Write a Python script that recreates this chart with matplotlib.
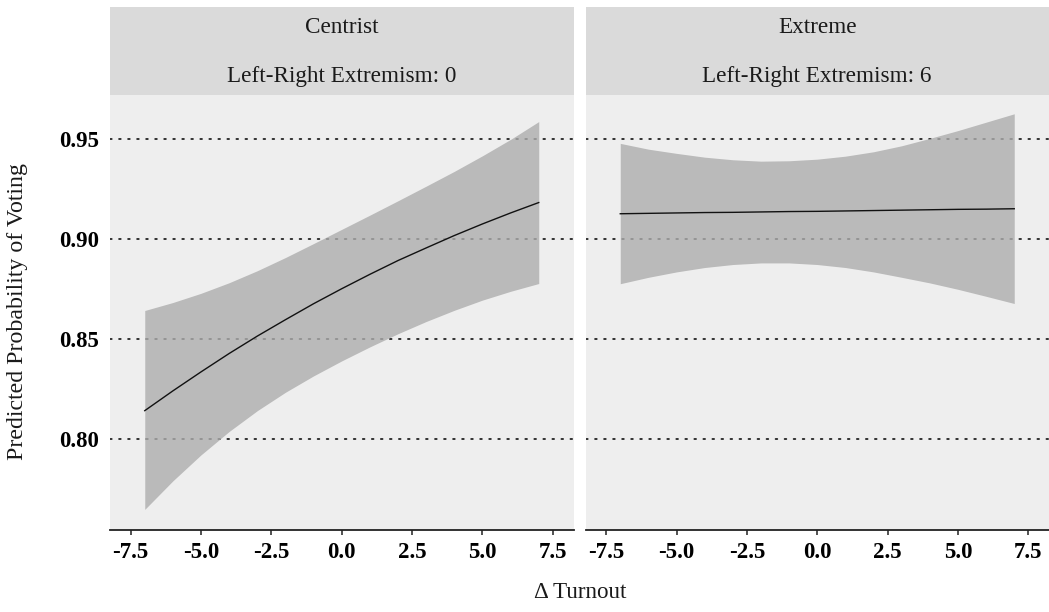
import matplotlib
matplotlib.use("Agg")
import matplotlib.pyplot as plt

# ---- data ----
x_vals = [-7, -6, -5, -4, -3, -2, -1, 0, 1, 2, 3, 4, 5, 6, 7]

centrist_fit = [0.8143, 0.8242, 0.8337, 0.8429, 0.8516, 0.8598, 0.8678, 0.8753,
                0.8825, 0.8894, 0.8957, 0.9019, 0.9077, 0.9132, 0.9184]
centrist_hi = [0.8644, 0.8684, 0.8730, 0.8783, 0.8843, 0.8909, 0.8979, 0.9050,
               0.9121, 0.9193, 0.9266, 0.9340, 0.9418, 0.9500, 0.9589]
centrist_lo = [0.7649, 0.7792, 0.7922, 0.8039, 0.8143, 0.8235, 0.8317, 0.8392,
               0.8462, 0.8528, 0.8589, 0.8645, 0.8696, 0.8740, 0.8779]

extreme_fit = [0.9128, 0.9130, 0.9132, 0.9134, 0.9135, 0.9137, 0.9139, 0.9140,
               0.9142, 0.9144, 0.9146, 0.9148, 0.9150, 0.9151, 0.9153]
extreme_hi = [0.9480, 0.9451, 0.9430, 0.9411, 0.9398, 0.9391, 0.9393, 0.9401,
              0.9416, 0.9438, 0.9468, 0.9505, 0.9544, 0.9586, 0.9628]
extreme_lo = [0.8778, 0.8810, 0.8837, 0.8859, 0.8874, 0.8882, 0.8882, 0.8874,
              0.8859, 0.8837, 0.8810, 0.8782, 0.8750, 0.8715, 0.8679]

panel_titles = ["Centrist", "Extreme"]
panel_subtitles = ["Left-Right Extremism: 0", "Left-Right Extremism: 6"]
y_ticks = [0.80, 0.85, 0.90, 0.95]
y_tick_labels = ["0.80", "0.85", "0.90", "0.95"]
x_ticks = [-7.5, -5.0, -2.5, 0.0, 2.5, 5.0, 7.5]
x_tick_labels = ["-7.5", "-5.0", "-2.5", "0.0", "2.5", "5.0", "7.5"]
y_label = "Predicted Probability of Voting"
x_label = "Δ Turnout"

# ---- styling ----
plt.rcParams['font.family'] = ['Liberation Serif', 'DejaVu Serif']
W, H = 1049, 612
fig = plt.figure(figsize=(W / 100, H / 100), dpi=100)
fig.patch.set_facecolor("white")

panel_bg = "#EEEEEE"
strip_bg = "#DADADA"
ribbon_col = "#ADADAD"

px_bottom, px_top = 530, 95
strip_top = 7
lefts = [110, 585.5]
width_px = 463.5

series = [(centrist_fit, centrist_lo, centrist_hi),
          (extreme_fit, extreme_lo, extreme_hi)]

for i in range(2):
    l = lefts[i]
    ax = fig.add_axes([l / W, 1 - px_bottom / H, width_px / W, (px_bottom - px_top) / H])
    ax.set_facecolor(panel_bg)
    fit, lo, hi = series[i]
    for yt in y_ticks:
        ax.axhline(yt, color="#1a1a1a", lw=1.25, linestyle=(0, (1, 4.2)), zorder=1,
                   dash_capstyle="round")
    ax.fill_between(x_vals, lo, hi, color=ribbon_col, alpha=0.8, lw=0, zorder=2)
    ax.plot(x_vals, fit, color="#111111", lw=1.0, zorder=3)
    ax.set_xlim(-8.235, 8.235)
    ax.set_ylim(0.7546, 0.9722)
    for s in ["top", "right", "left"]:
        ax.spines[s].set_visible(False)
    ax.spines["bottom"].set_color("#222222")
    ax.spines["bottom"].set_linewidth(1.3)
    ax.set_xticks(x_ticks)
    ax.set_xticklabels(x_tick_labels, fontsize=16.5, fontweight="bold")
    ax.tick_params(axis="x", length=3.5, width=1.1, color="#222222", pad=5)
    ax.set_yticks(y_ticks)
    if i == 0:
        ax.set_yticklabels(y_tick_labels, fontsize=16.5, fontweight="bold")
        ax.tick_params(axis="y", length=0, pad=8)
    else:
        ax.set_yticklabels([])
        ax.tick_params(axis="y", length=0)

    sax = fig.add_axes([l / W, 1 - px_top / H, width_px / W, (px_top - strip_top) / H])
    sax.set_facecolor(strip_bg)
    sax.set_xticks([])
    sax.set_yticks([])
    for s in sax.spines.values():
        s.set_visible(False)
    sax.text(0.5, 0.765, panel_titles[i], ha="center", va="center", fontsize=16.7,
             transform=sax.transAxes, color="#1a1a1a")
    sax.text(0.5, 0.215, panel_subtitles[i], ha="center", va="center", fontsize=16.7,
             transform=sax.transAxes, color="#1a1a1a")

fig.text(18 / W, 1 - 312 / H, y_label, rotation=90, ha="center", va="center",
         fontsize=17.2, color="#1a1a1a")
fig.text(580 / W, 1 - 593 / H, x_label, ha="center", va="center",
         fontsize=16.7, color="#1a1a1a")

fig.savefig("out.png", dpi=100, facecolor="white")
